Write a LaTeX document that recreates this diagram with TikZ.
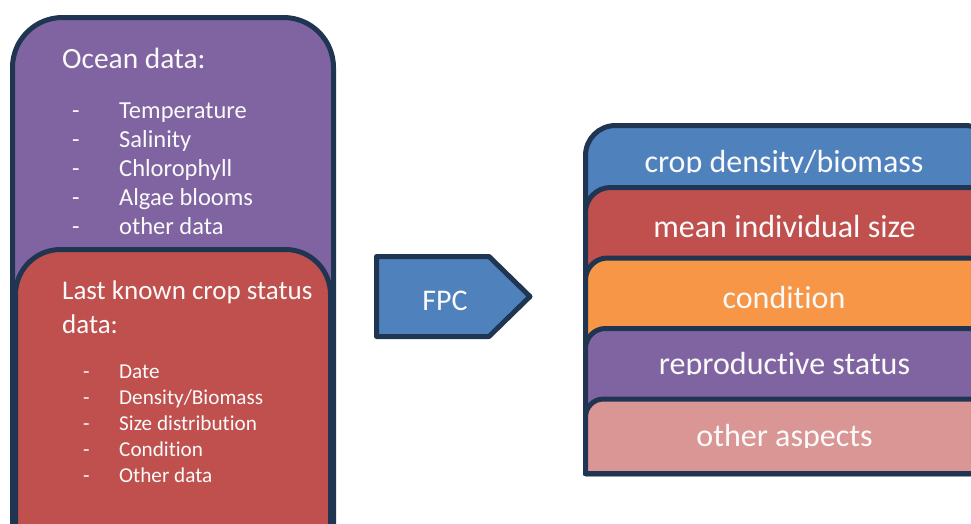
\documentclass[tikz,border=0pt]{standalone}
\usepackage{fontspec}
\setmainfont{Carlito}[Ligatures={NoCommon,NoContextual,NoRequired}, Contextuals={NoAlternate}]
\definecolor{edge}{HTML}{1F3551}
\definecolor{oceanpurple}{HTML}{8064A2}
\definecolor{cropred}{HTML}{C0504D}
\definecolor{fpcblue}{HTML}{4F81BD}
\definecolor{condorange}{HTML}{F79646}
\definecolor{otherpink}{HTML}{D99694}
\definecolor{softwhite}{HTML}{FAFAFA}

% Panel with rounded top corners and a square bottom:
% #1 fill, #2 left, #3 top, #4 right, #5 bottom, #6 radius (pt)
\newcommand\toptab[6]{%
  \draw[panel, fill=#1] (#2,#5) -- (#2,#3+#6)
    arc[start angle=180, end angle=90, radius=#6pt]
    -- (#4-#6,#3)
    arc[start angle=90, end angle=0, radius=#6pt]
    -- (#4,#5) -- cycle;}

\begin{document}
\begin{tikzpicture}[x=1pt, y=-1pt,
  panel/.style={draw=edge, line width=5pt, line join=round},
  txt/.style={text=softwhite, inner sep=0pt},
  head/.style={txt, anchor=base west, font=\fontsize{29.4}{34}\selectfont},
  redhead/.style={txt, anchor=base west, font=\fontsize{27}{32}\selectfont},
  item/.style={txt, anchor=base west, font=\fontsize{24.5}{28}\selectfont},
  smallitem/.style={txt, anchor=base west, font=\fontsize{21.2}{25}\selectfont},
  result/.style={txt, anchor=base, font=\fontsize{32}{38}\selectfont}]
\useasboundingbox (0,0) rectangle (971,523);
\clip (0,0) rectangle (971,523);

% ---- input panels ----
\draw[panel, fill=oceanpurple, rounded corners=50pt] (12.5,17.5) rectangle (333.5,620);
\node[head] (ocean) at (62,68) {Ocean data:};
\foreach \t [count=\i from 0] in {Temperature, Salinity, Chlorophyll, Algae blooms, other data} {
  \node[item] (od\i) at (72,{118+29.2*\i}) {-};
  \node[item] (o\i) at (119,{118+29.2*\i}) {\t};
}

\draw[panel, fill=cropred, rounded corners=45pt] (15.5,249.5) rectangle (330.5,640);
\node[redhead] (crop1) at (62,299) {Last known crop status};
\node[redhead] (crop2) at (62,333) {data:};
\foreach \t [count=\i from 0] in {Date, Density/Biomass, Size distribution, Condition, Other data} {
  \node[smallitem] (cd\i) at (83,{378+26*\i}) {-};
  \node[smallitem] (c\i) at (119,{378+26*\i}) {\t};
}

% ---- model ----
\draw[panel, fill=fpcblue] (376.5,256.5) -- (489,256.5) -- (530,296.5)
  -- (489,336.5) -- (376.5,336.5) -- cycle;
\node[txt, anchor=base, font=\fontsize{30}{36}\selectfont] (fpc) at (445,310) {FPC};

% ---- output stack ----
\toptab{fpcblue}{585.5}{125.5}{995}{473.5}{30}
\begin{scope}
  \clip (585,100) rectangle (971,172.5);
  \node[result] (r1) at (784,172) {crop density/biomass};
\end{scope}
\toptab{cropred}{585.5}{187.5}{995}{473.5}{25}
\begin{scope}
  \clip (585,180) rectangle (971,238);
  \node[result] (r2) at (784.5,237.7) {mean individual size};
\end{scope}
\toptab{condorange}{585.5}{258}{995}{473.5}{22}
\begin{scope}
  \clip (585,250) rectangle (971,308.5);
  \node[result] (r3) at (784,308) {condition};
\end{scope}
\toptab{oceanpurple}{585.5}{328.5}{995}{473.5}{20}
\begin{scope}
  \clip (585,320) rectangle (971,374.5);
  \node[result] (r4) at (784.5,374) {reproductive status};
\end{scope}
\toptab{otherpink}{585.5}{399}{995}{473.5}{18}
\begin{scope}
  \clip (585,390) rectangle (971,447);
  \node[result] (r5) at (784.5,446.7) {other aspects};
\end{scope}
\end{tikzpicture}
\end{document}
